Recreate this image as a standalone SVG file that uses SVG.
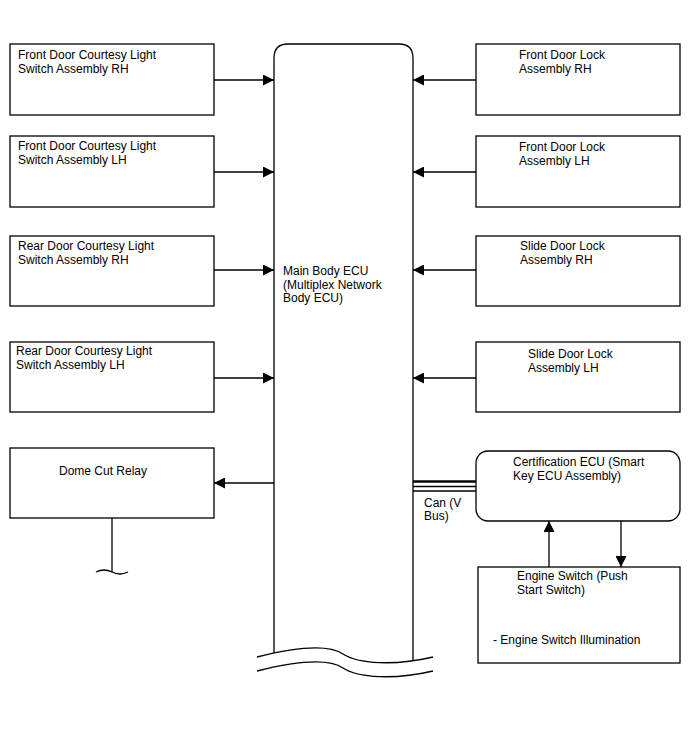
<svg xmlns="http://www.w3.org/2000/svg" width="688" height="755" viewBox="0 0 688 755">
<style>
.b{fill:#fff;stroke:#000;stroke-width:1.3}
.l{fill:none;stroke:#000;stroke-width:1.3}
text{font-family:"Liberation Sans",Arial,sans-serif;font-size:12px;fill:#000}
</style>
<defs>
<marker id="a" viewBox="0 0 10 10" refX="10" refY="5" markerWidth="13" markerHeight="11" markerUnits="userSpaceOnUse" orient="auto"><path d="M0,0L10,5L0,10z" fill="#000"/></marker>
</defs>
<rect width="688" height="755" fill="#fff"/>
<g id="main-ecu">
<path class="l" d="M274,653V58Q274,44 288,44H399Q413,44 413,58V661"/>
<text x="283" y="275">Main Body ECU</text>
<text x="283" y="288.5">(Multiplex Network</text>
<text x="283" y="302">Body ECU)</text>
</g>
<g id="fl-courtesy-rh"><rect class="b" x="10" y="44" width="204" height="71"/><text x="18" y="59">Front Door Courtesy Light</text><text x="18" y="73">Switch Assembly RH</text></g>
<g id="fl-courtesy-lh"><rect class="b" x="10" y="136" width="204" height="71"/><text x="18" y="150">Front Door Courtesy Light</text><text x="18" y="164">Switch Assembly LH</text></g>
<g id="rr-courtesy-rh"><rect class="b" x="10" y="236" width="204" height="70"/><text x="18" y="250">Rear Door Courtesy Light</text><text x="18" y="264">Switch Assembly RH</text></g>
<g id="rr-courtesy-lh"><rect class="b" x="10" y="342" width="204" height="70"/><text x="16" y="355">Rear Door Courtesy Light</text><text x="16" y="369">Switch Assembly LH</text></g>
<g id="dome-cut"><rect class="b" x="10" y="448" width="204" height="70"/><text x="59" y="475">Dome Cut Relay</text>
<path class="l" d="M112,518V572M96,572Q104,568 112,572T128,572"/></g>
<g id="fd-lock-rh"><rect class="b" x="476" y="44" width="204" height="71"/><text x="519" y="59">Front Door Lock</text><text x="519" y="73">Assembly RH</text></g>
<g id="fd-lock-lh"><rect class="b" x="476" y="136" width="204" height="71"/><text x="519" y="151">Front Door Lock</text><text x="519" y="165">Assembly LH</text></g>
<g id="sd-lock-rh"><rect class="b" x="476" y="236" width="204" height="70"/><text x="520" y="250">Slide Door Lock</text><text x="520" y="264">Assembly RH</text></g>
<g id="sd-lock-lh"><rect class="b" x="476" y="342" width="204" height="70"/><text x="528" y="358">Slide Door Lock</text><text x="528" y="372">Assembly LH</text></g>
<g id="cert-ecu"><rect class="b" x="476" y="451" width="204" height="70" rx="12"/><text x="513" y="466">Certification ECU (Smart</text><text x="513" y="480">Key ECU Assembly)</text></g>
<g id="engine-switch"><rect class="b" x="478" y="567" width="202" height="96"/><text x="517" y="580">Engine Switch (Push</text><text x="517" y="594">Start Switch)</text><text x="493" y="644">- Engine Switch Illumination</text></g>
<g id="connectors">
<line class="l" x1="214" y1="80" x2="274" y2="80" marker-end="url(#a)"/>
<line class="l" x1="214" y1="172" x2="274" y2="172" marker-end="url(#a)"/>
<line class="l" x1="214" y1="270" x2="274" y2="270" marker-end="url(#a)"/>
<line class="l" x1="214" y1="378" x2="274" y2="378" marker-end="url(#a)"/>
<line class="l" x1="274" y1="483" x2="214" y2="483" marker-end="url(#a)"/>
<line class="l" x1="476" y1="80" x2="413" y2="80" marker-end="url(#a)"/>
<line class="l" x1="476" y1="172" x2="413" y2="172" marker-end="url(#a)"/>
<line class="l" x1="476" y1="270" x2="413" y2="270" marker-end="url(#a)"/>
<line class="l" x1="476" y1="378" x2="413" y2="378" marker-end="url(#a)"/>
<path d="M413,481.5H476" fill="none" stroke="#000" stroke-width="2.4"/>
<path d="M413,486.5H476M413,491H476" fill="none" stroke="#000" stroke-width="1.6"/>
<text x="424" y="507">Can (V</text><text x="424" y="520">Bus)</text>
<line class="l" x1="549" y1="567" x2="549" y2="521" marker-end="url(#a)"/>
<line class="l" x1="621" y1="521" x2="621" y2="567" marker-end="url(#a)"/>
<path class="l" d="M257,657C285,650 325,642 343,654C358,664 395,666 433,657M257,671C285,664 325,656 343,668C358,678 395,680 433,671"/>
</g>
</svg>
